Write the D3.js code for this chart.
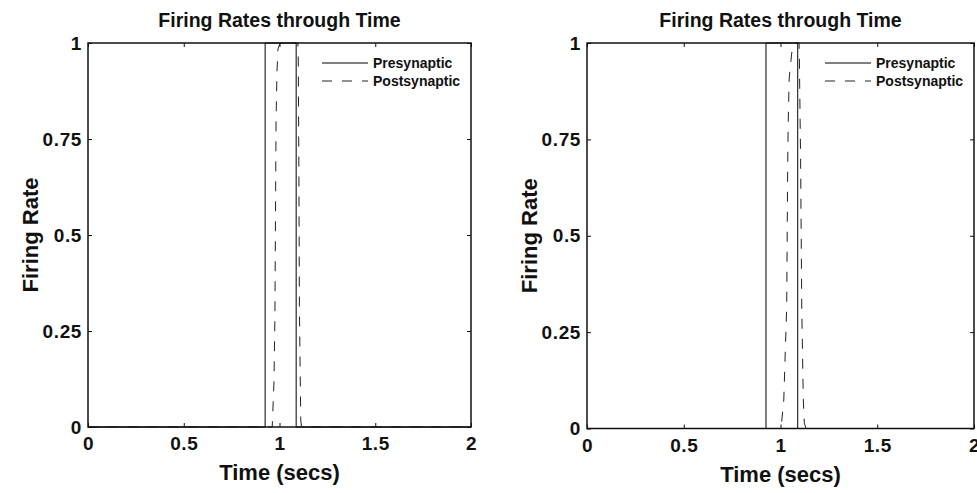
<!DOCTYPE html>
<html>
<head>
<meta charset="utf-8">
<script src="https://cdn.jsdelivr.net/npm/d3@7/dist/d3.min.js"></script>
<style>
  html, body { margin: 0; padding: 0; background: #fff; }
  svg { display: block; }
  text { font-family: "Liberation Sans", Arial, Helvetica, sans-serif; font-weight: bold; fill: #111; }
</style>
</head>
<body>
<svg id="chart" width="977" height="493"></svg>
<script>
// ---- data ----
const chartTitle = "Firing Rates through Time";
const xLabel = "Time (secs)";
const yLabel = "Firing Rate";
const xTicks = [0, 0.5, 1, 1.5, 2];
const yTicks = [0, 0.25, 0.5, 0.75, 1];
const seriesNames = ["Presynaptic", "Postsynaptic"];

// left panel
const preTimeA = [0, 0.925, 0.925, 1.087, 1.087, 2];
const preRateA = [0, 0, 1, 1, 0, 0];
const postTimeA = [0, 0.962, 0.971, 0.976, 0.982, 0.987, 0.992, 1.003, 1.096, 1.098, 1.101, 1.104, 1.111, 1.115, 2];
const postRateA = [0, 0, 0.115, 0.286, 0.797, 0.927, 0.984, 1, 1, 0.961, 0.693, 0.3125, 0.018, 0, 0];

// right panel
const preTimeB = [0, 0.925, 0.925, 1.089, 1.089, 2];
const preRateB = [0, 0, 1, 1, 0, 0];
const postTimeB = [0, 0.997, 1.006, 1.017, 1.025, 1.032, 1.037, 1.040, 1.045, 1.058, 1.07, 1.096, 1.097, 1.104, 1.110, 1.118, 1.123, 1.132, 2];
const postRateB = [0, 0, 0.018, 0.074, 0.204, 0.315, 0.676, 0.798, 0.909, 0.974, 1, 1, 0.979, 0.694, 0.307, 0.074, 0.014, 0, 0];

// ---- drawing ----
const svg = d3.select("#chart");

function drawPanel(box, preT, preR, postT, postR) {
  const g = svg.append("g");
  const x = d3.scaleLinear().domain([0, 2]).range([box.left, box.right]);
  const y = d3.scaleLinear().domain([0, 1]).range([box.bottom, box.top]);
  const tickLen = 4;

  // series
  const line = d3.line().x(d => x(d[0])).y(d => y(d[1]));
  g.append("path")
    .datum(preT.map((t, i) => [t, preR[i]]))
    .attr("d", line).attr("fill", "none")
    .attr("stroke", "#000").attr("stroke-width", 1);
  g.append("path")
    .datum(postT.map((t, i) => [t, postR[i]]))
    .attr("d", line).attr("fill", "none")
    .attr("stroke", "#222").attr("stroke-width", 1)
    .attr("stroke-dasharray", "10,10");

  // box
  g.append("rect")
    .attr("x", box.left).attr("y", box.top)
    .attr("width", box.right - box.left).attr("height", box.bottom - box.top)
    .attr("fill", "none").attr("stroke", "#111").attr("stroke-width", 1.5);

  const styleTick = sel => sel.attr("font-size", 19).attr("font-weight", "bold")
    .attr("letter-spacing", 0.6)
    .attr("font-family", "Liberation Sans, Arial, sans-serif").attr("fill", "#111");

  // bottom axis (inward ticks) and top ticks
  const xb = d3.axisBottom(x).tickValues(xTicks).tickSize(-tickLen).tickPadding(10)
    .tickFormat(d => d3.format("")(d));
  const gx = g.append("g").attr("transform", `translate(0,${box.bottom})`).call(xb);
  gx.select(".domain").remove();
  gx.selectAll("line").attr("stroke", "#111");
  gx.selectAll("text").call(styleTick);

  const xt = d3.axisTop(x).tickValues(xTicks).tickSize(-tickLen).tickFormat("");
  const gxt = g.append("g").attr("transform", `translate(0,${box.top})`).call(xt);
  gxt.select(".domain").remove();
  gxt.selectAll("line").attr("stroke", "#111");

  // left axis and right ticks
  const yl = d3.axisLeft(y).tickValues(yTicks).tickSize(-tickLen).tickPadding(6)
    .tickFormat(d => d3.format("")(d));
  const gy = g.append("g").attr("transform", `translate(${box.left},0)`).call(yl);
  gy.select(".domain").remove();
  gy.selectAll("line").attr("stroke", "#111");
  gy.selectAll("text").call(styleTick);

  const yr = d3.axisRight(y).tickValues(yTicks).tickSize(-tickLen).tickFormat("");
  const gyr = g.append("g").attr("transform", `translate(${box.right},0)`).call(yr);
  gyr.select(".domain").remove();
  gyr.selectAll("line").attr("stroke", "#111");

  const cx = (box.left + box.right) / 2;
  // title
  g.append("text").attr("x", cx).attr("y", box.top - 16)
    .attr("text-anchor", "middle").attr("font-size", 19.5).text(chartTitle);
  // x label
  g.append("text").attr("x", cx).attr("y", box.bottom + 53)
    .attr("text-anchor", "middle").attr("font-size", 22).text(xLabel);
  // y label
  const cy = (box.top + box.bottom) / 2;
  g.append("text")
    .attr("transform", `translate(${box.left - 50},${cy}) rotate(-90)`)
    .attr("text-anchor", "middle").attr("font-size", 22).text(yLabel);

  // legend (no box)
  const lx0 = box.right - 149, lx1 = box.right - 103, tx = box.right - 98;
  const ly = [box.top + 20, box.top + 38];
  const styles = [null, "10,10"];
  seriesNames.forEach((name, i) => {
    g.append("line").attr("x1", lx0).attr("x2", lx1).attr("y1", ly[i]).attr("y2", ly[i])
      .attr("stroke", i === 0 ? "#000" : "#222").attr("stroke-width", 1)
      .attr("stroke-dasharray", styles[i]);
    g.append("text").attr("x", tx).attr("y", ly[i] + 5)
      .attr("font-size", 14).text(name);
  });
}

drawPanel({left: 88, right: 471, top: 43, bottom: 427}, preTimeA, preRateA, postTimeA, postRateA);
drawPanel({left: 587, right: 974, top: 43, bottom: 428.5}, preTimeB, preRateB, postTimeB, postRateB);
</script>
</body>
</html>
